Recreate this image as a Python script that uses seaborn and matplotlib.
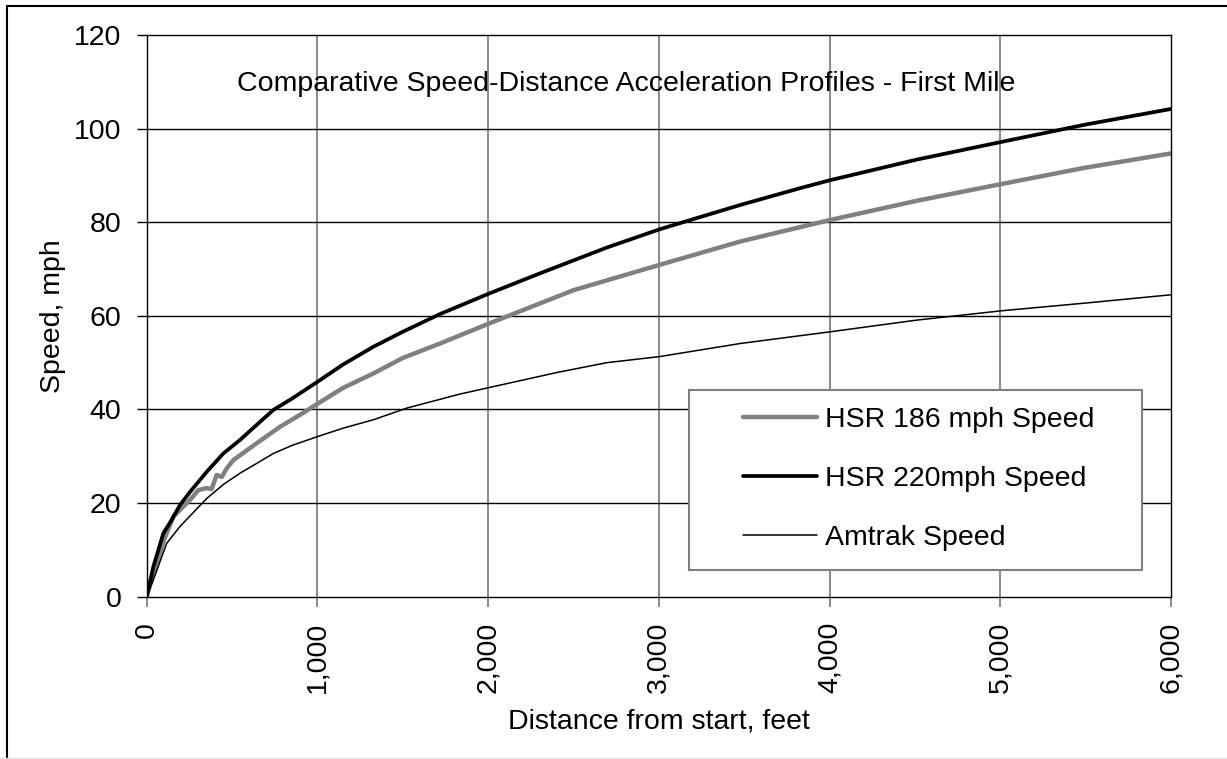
import pandas as pd
import numpy as np
import matplotlib.pyplot as plt
import seaborn as sns
from matplotlib.patches import Rectangle
from matplotlib.lines import Line2D
from matplotlib.ticker import FuncFormatter

sns.set_theme(style="white", rc={'text.color': 'black', 'axes.labelcolor': 'black',
                                 'xtick.color': 'black', 'ytick.color': 'black'})
plt.rcParams['font.family'] = ['Liberation Sans', 'DejaVu Sans']

# values
hsr186_ft = [0, 39, 100, 156, 254, 303, 352, 380, 410, 440, 469, 508, 645, 781, 900, 1000,
             1150, 1328, 1500, 1719, 2008, 2501, 3005, 3478, 4005, 4513, 5012, 5490, 6000]
hsr186_mph = [0, 5.0, 12.0, 17.1, 20.7, 22.8, 23.2, 23.0, 26.0, 25.6, 27.4, 29.2, 32.8, 36.3, 38.9, 41.2,
              44.6, 47.7, 51.0, 54.1, 58.4, 65.5, 70.9, 75.9, 80.5, 84.6, 88.2, 91.6, 94.7]

hsr220_ft = [0, 39, 97, 146, 195, 254, 352, 449, 547, 650, 742, 850, 1000, 1150, 1328, 1500, 1719,
             2008, 2305, 2696, 3005, 3478, 3830, 4005, 4513, 5012, 5490, 6000]
hsr220_mph = [0, 6.4, 13.5, 16.4, 19.6, 22.4, 26.7, 30.6, 33.5, 36.9, 39.9, 42.3, 45.9, 49.6, 53.4, 56.6, 60.4,
              64.8, 69.1, 74.6, 78.5, 83.7, 87.3, 89.0, 93.4, 97.2, 100.8, 104.2]

amtrak_ft = [0, 39, 117, 195, 352, 450, 547, 650, 742, 850, 1000, 1150, 1328, 1524, 1836, 2008,
             2403, 2696, 3005, 3478, 4005, 4513, 5012, 5490, 6000]
amtrak_mph = [0, 3.6, 11.4, 15.0, 21.0, 24.0, 26.4, 28.6, 30.6, 32.3, 34.2, 36.0, 37.8, 40.3, 43.3, 44.7,
              47.9, 50.0, 51.3, 54.1, 56.6, 59.1, 61.1, 62.7, 64.5]

x_ticks = [0, 1000, 2000, 3000, 4000, 5000, 6000]
y_ticks = [0, 20, 40, 60, 80, 100, 120]

W, H = 1227, 759
fig = plt.figure(figsize=(W / 100, H / 100), dpi=100)
ax = fig.add_axes([146.7 / W, (H - 596.7) / H, 1024.3 / W, 561.7 / H])

fs = 20.5
sns.lineplot(x=hsr186_ft, y=hsr186_mph, color='#808080', lw=3.2, ax=ax,
             estimator=None, sort=False, label='HSR 186 mph Speed')
sns.lineplot(x=hsr220_ft, y=hsr220_mph, color='black', lw=2.7, ax=ax,
             estimator=None, sort=False, label='HSR 220mph Speed')
sns.lineplot(x=amtrak_ft, y=amtrak_mph, color='black', lw=1.1, ax=ax,
             estimator=None, sort=False, label='Amtrak Speed')

ax.set_xlim(0, 6000)
ax.set_ylim(0, 120)
ax.set_xticks(x_ticks)
ax.set_yticks(y_ticks)
ax.xaxis.set_major_formatter(FuncFormatter(lambda v, p: f'{int(v):,}'))
ax.tick_params(axis='x', labelrotation=90, direction='out', length=7.2, width=1.3,
               color='#808080', labelcolor='black', labelsize=fs, pad=11, bottom=True)
ax.tick_params(axis='y', direction='out', length=7.2, width=1, color='black',
               labelsize=fs, pad=11, left=True)

ax.grid(False)
for v in x_ticks[1:-1]:
    ax.axvline(v, color='#808080', lw=1.3, zorder=0.5)
for v in y_ticks[1:-1]:
    ax.axhline(v, color='black', lw=1.0, zorder=0.5)
for s in ax.spines.values():
    s.set_color('black')
    s.set_linewidth(1.0)

ax.set_xlabel('Distance from start, feet', fontsize=fs)
ax.set_ylabel('Speed, mph', fontsize=fs)
ax.xaxis.set_label_coords(0.5, -0.199)
ax.yaxis.set_label_coords(-0.0788, 0.5)

ax.text(0.468, 0.900, 'Comparative Speed-Distance Acceleration Profiles - First Mile',
        transform=ax.transAxes, ha='center', va='baseline', fontsize=fs)

# legend box
ax.add_patch(Rectangle((0.5294, 0.0475), 0.4423, 0.3205, transform=ax.transAxes,
                       facecolor='white', edgecolor='#808080', lw=1.5, zorder=5))
leg = ax.legend(loc='center left', bbox_to_anchor=(0.5819, 0.2095), frameon=False,
                fontsize=fs, borderpad=0, borderaxespad=0, handlelength=2.6,
                handletextpad=0.3, labelspacing=1.15)
leg.set_zorder(6)

# outer border
fig.add_artist(Line2D([7 / W, 7 / W], [0, 1 - 6 / H], color='black', lw=1.5))
fig.add_artist(Line2D([7 / W, 1], [1 - 6 / H, 1 - 6 / H], color='black', lw=1.5))
fig.add_artist(Line2D([0, 1], [1.5 / H, 1.5 / H], color='#dddddd', lw=1))

fig.savefig('out.png', dpi=100)
